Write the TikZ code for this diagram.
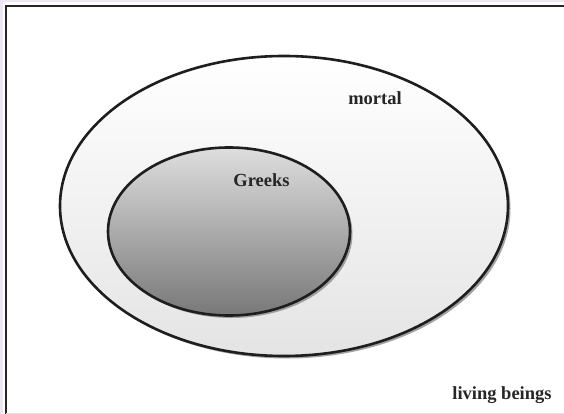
\documentclass[tikz,border=0pt]{standalone}
\usepackage{fontspec}
\setmainfont{Liberation Serif}
\usetikzlibrary{shadows}
\definecolor{lav}{RGB}{238,230,242}
\definecolor{edge}{RGB}{30,30,30}
\definecolor{outbot}{RGB}{228,228,228}
\definecolor{intop}{RGB}{222,222,222}
\definecolor{inbot}{RGB}{120,120,120}
\tikzset{
  setcircle/.style={draw=edge, line width=2.6pt,
    drop shadow={shadow xshift=2.5pt, shadow yshift=-2.5pt, fill=black!45, opacity=0.8}},
  lbl/.style={font=\fontsize{18.5}{20}\selectfont\bfseries, text=black!85, anchor=base, inner sep=0pt}
}
\begin{document}
\begin{tikzpicture}[x=1pt,y=-1pt]
\useasboundingbox (0,0) rectangle (564,414);
\fill[lav] (0,0) rectangle (564,414);
\fill[white] (2.5,2.5) rectangle (564,414);
\draw[black!85, line width=1.6pt] (6,414) -- (6,6) -- (564,6);
\draw[black!10, line width=1pt] (6,413.5) -- (564,413.5);
\path[setcircle, top color=white, bottom color=outbot] (284,206) ellipse [x radius=224, y radius=150];
\path[setcircle, top color=intop, bottom color=inbot] (229,231.5) ellipse [x radius=121, y radius=84];
\node[lbl] (mortal) at (375,105) {mortal};
\node[lbl] (greeks) at (261.5,186) {Greeks};
\node[lbl] (living) at (502,399) {living beings};
\end{tikzpicture}
\end{document}
